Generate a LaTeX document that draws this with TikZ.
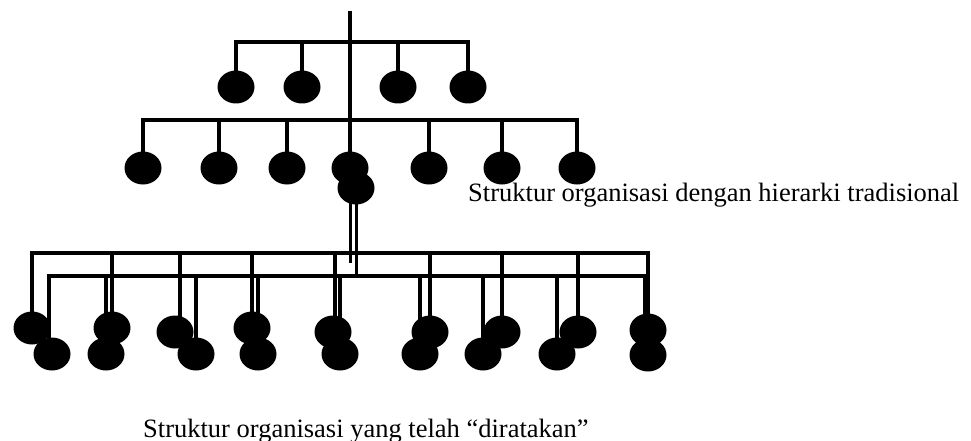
\documentclass[tikz,border=0pt]{standalone}
\usepackage{fontspec}
\setmainfont{Liberation Serif}
\usetikzlibrary{shapes.geometric,backgrounds}
\begin{document}
\begin{tikzpicture}[x=1pt,y=-1pt,
  link/.style={line width=3.8pt, line cap=rect},
  twin/.style={line width=3pt},
  dot/.style={ellipse, fill=black, inner sep=0pt, minimum width=37pt, minimum height=33pt},
  caption/.style={font=\fontsize{26.5}{32}\selectfont, inner sep=0pt, anchor=base west}]
\useasboundingbox (0,0) rectangle (971,441);

% ---------- traditional hierarchy ----------
\coordinate (root) at (350,13);
\coordinate (ha) at (350,42);
\coordinate (hb) at (350,120);

\node[dot] (a1) at (236,87) {};
\node[dot] (a2) at (302,87) {};
\node[dot] (a3) at (398,87) {};
\node[dot] (a4) at (468,87) {};

\node[dot] (b1) at (143,168) {};
\node[dot] (b2) at (219,168) {};
\node[dot] (b3) at (287,168) {};
\node[dot] (b4) at (350,168) {};
\node[dot] (b5) at (429,168) {};
\node[dot] (b6) at (502,168) {};
\node[dot] (b7) at (577,168) {};

\node[dot] (hub) at (356,188) {};

% ---------- flattened structure ----------
\coordinate (hc) at (350,253);
\coordinate (hd) at (356,276);
\coordinate (stub) at (350,263);

\node[dot] (c1) at (32,328) {};
\node[dot] (c2) at (112,328) {};
\node[dot] (c3) at (175,332) {};
\node[dot] (c4) at (252,328) {};
\node[dot] (c5) at (333,332) {};
\node[dot] (c6) at (430,332) {};
\node[dot] (c7) at (502,332) {};
\node[dot] (c8) at (578,332) {};
\node[dot] (c9) at (648,330) {};

\node[dot] (d1) at (52,354) {};
\node[dot] (d2) at (106,354) {};
\node[dot] (d3) at (196,354) {};
\node[dot] (d4) at (258,354) {};
\node[dot] (d5) at (340,354) {};
\node[dot] (d6) at (420,354) {};
\node[dot] (d7) at (483,354) {};
\node[dot] (d8) at (557,354) {};
\node[dot] (d9) at (648,355) {};

\begin{scope}[on background layer]
  % spine of the hierarchy
  \draw[link] (root) -- (b4.center);
  % first level
  \draw[link] (a1.center) |- (ha) -| (a4.center);
  \draw[link] (a2.center) -- (a2 |- ha);
  \draw[link] (a3.center) -- (a3 |- ha);
  % second level
  \draw[link] (b1.center) |- (hb) -| (b7.center);
  \foreach \n in {b2,b3,b5,b6} \draw[link] (\n.center) -- (\n |- hb);

  % twin feed from the hub
  \draw[twin] ([xshift=-6pt]hub.center) -- (stub);
  \draw[twin] (hub.center) -- (hd);

  % upper rail
  \draw[link] (c1.center) |- (hc) -| (c9.center);
  \foreach \n in {c2,c4,c6,c7,c8} \draw[link] (\n.center) -- (\n |- hc);
  \draw[link] ([xshift=5pt]c3.center) -- ([xshift=5pt]c3.center |- hc);
  \draw[link] ([xshift=2pt]c5.center) -- ([xshift=2pt]c5.center |- hc);

  % lower rail
  \draw[link] ([xshift=-3pt]d1.center) |- (hd) -| ([xshift=-3pt]d9.center);
  \foreach \n in {d2,d3,d4,d5,d6,d7,d8} \draw[link] (\n.center) -- (\n |- hd);
\end{scope}

\node[caption] (cap1) at (468,201) {Struktur organisasi dengan hierarki tradisional};
\node[caption] (cap2) at (143,437) {Struktur organisasi yang telah “diratakan”};
\end{tikzpicture}
\end{document}
